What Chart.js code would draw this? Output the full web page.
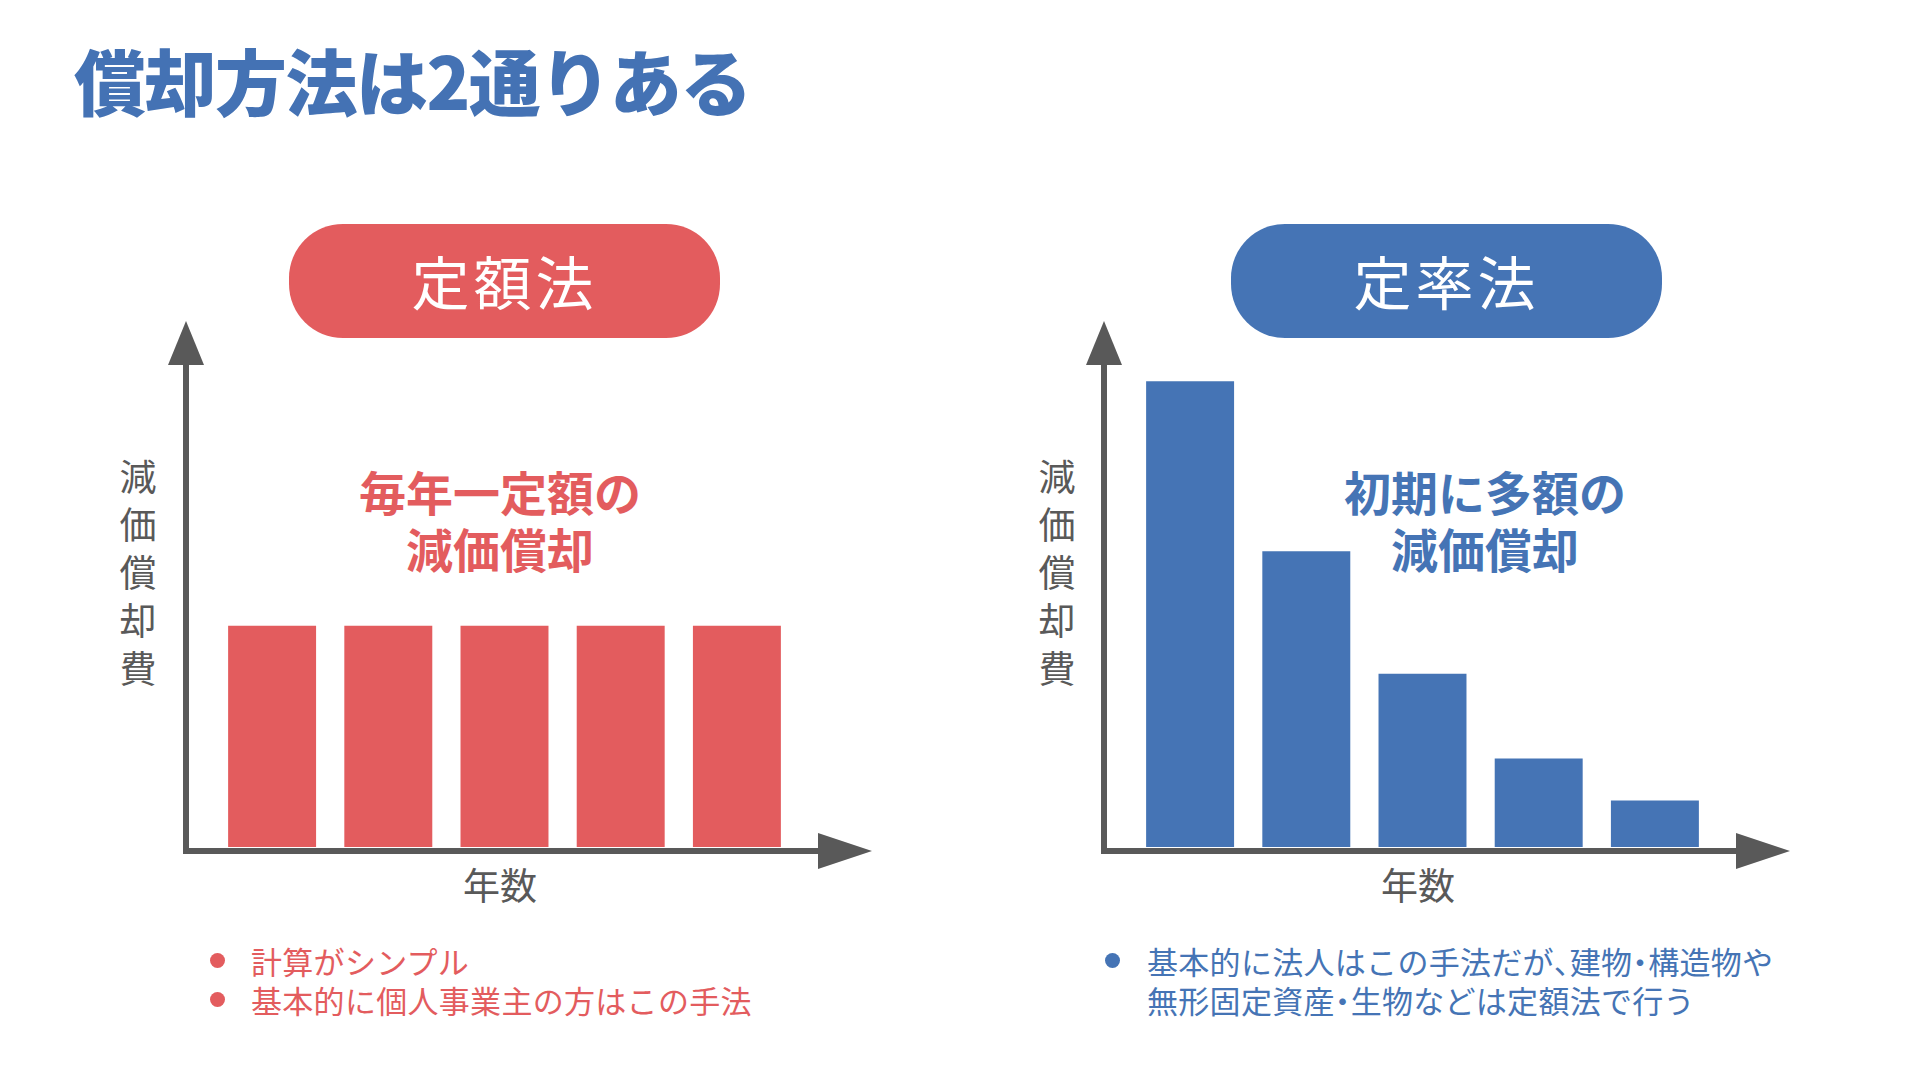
<!DOCTYPE html>
<html lang="ja">
<head>
<meta charset="utf-8">
<script src="https://cdn.jsdelivr.net/npm/chart.js@4.4.1/dist/chart.umd.min.js"></script>
<style>
  html, body { margin: 0; padding: 0; background: #fff; }
  body { width: 1920px; height: 1080px; position: relative; overflow: hidden; font-family: "Noto Sans CJK JP", sans-serif; }
  .abs { position: absolute; white-space: nowrap; }
  .title { left: 74px; top: 33px; font-size: 72px; line-height: 92px; font-weight: 900; color: #4472B4; letter-spacing: -1.5px; }
  .pill { top: 224px; width: 431px; height: 114px; border-radius: 54px; color: #fff; font-size: 58px;
          display: flex; align-items: center; justify-content: center; letter-spacing: 4px; padding-bottom: 3px; box-sizing: border-box; }
  .red { color: #E35C5E; }
  .blue { color: #4574B5; }
  .ylabel { top: 451px; width: 60px; font-size: 37px; line-height: 48px; color: #595959; text-align: center; }
  .xlabel { top: 860px; width: 200px; font-size: 37px; line-height: 48px; color: #595959; text-align: center; }
  .note { top: 462px; width: 400px; font-size: 47px; line-height: 57px; font-weight: 700; text-align: center; }
  .bullets { top: 941px; font-size: 31px; line-height: 39px; letter-spacing: 0.3px; }
  .narrow { font-feature-settings: "palt"; }
  .dot { position: absolute; width: 15px; height: 15px; border-radius: 50%; }
  .chart { position: absolute; top: 250px; width: 760px; height: 640px; }
</style>
</head>
<body>
<div class="abs title">償却方法は2通りある</div>

<div class="abs pill" style="left:289px; background:#E35C5E;">定額法</div>
<div class="abs pill" style="left:1231px; background:#4574B5;">定率法</div>

<div class="abs ylabel" style="left:108px;">減<br>価<br>償<br>却<br>費</div>
<div class="abs ylabel" style="left:1027px;">減<br>価<br>償<br>却<br>費</div>

<div class="abs xlabel" style="left:400px;">年数</div>
<div class="abs xlabel" style="left:1318px;">年数</div>

<div class="abs note red" style="left:300px;">毎年一定額の<br>減価償却</div>
<div class="abs note blue" style="left:1285px;">初期に多額の<br>減価償却</div>

<div class="chart" style="left:150px;"><canvas id="straightChart" width="760" height="640"></canvas></div>
<div class="chart" style="left:1068px;"><canvas id="decliningChart" width="760" height="640"></canvas></div>

<div class="abs bullets red" style="left:251px;">
  <span class="dot" style="left:-41px; top:12px; background:#E35C5E;"></span>
  <span class="dot" style="left:-41px; top:51px; background:#E35C5E;"></span>
  計算がシンプル<br>基本的に個人事業主の方はこの手法
</div>
<div class="abs bullets blue" style="left:1147px;">
  <span class="dot" style="left:-42px; top:12px; background:#4574B5;"></span>
  基本的に法人はこの手法だが<span class="narrow">、</span>建物<span class="narrow">・</span>構造物や<br>無形固定資産<span class="narrow">・</span>生物などは定額法で行う
</div>

<script>
const years = ['1年目', '2年目', '3年目', '4年目', '5年目'];
const straightLineValues = [47.5, 47.5, 47.5, 47.5, 47.5];
const decliningValues = [100, 63.5, 37.2, 19, 10];
const yMax = 120;

const RED = '#E35C5E';
const BLUE = '#4574B5';
const AXIS = '#595959';

// axis lines with arrow heads, drawn just outside the category area
const arrowAxes = {
    id: 'arrowAxes',
    beforeDatasetsDraw(chart) {
        const { ctx, chartArea: a, scales: { y } } = chart;
        const ox = a.left - 28;
        const oy = y.getPixelForValue(0) + 4;
        ctx.save();
        ctx.strokeStyle = AXIS;
        ctx.fillStyle = AXIS;
        ctx.lineWidth = 6;
        ctx.beginPath();
        ctx.moveTo(ox, oy + 3);
        ctx.lineTo(ox, a.top + 70);
        ctx.moveTo(ox - 3, oy);
        ctx.lineTo(a.right + 30, oy);
        ctx.stroke();

        ctx.beginPath();
        ctx.moveTo(ox, a.top + 33);
        ctx.lineTo(ox - 18, a.top + 77);
        ctx.lineTo(ox + 18, a.top + 77);
        ctx.closePath();
        ctx.fill();

        ctx.beginPath();
        ctx.moveTo(a.right + 77, oy);
        ctx.lineTo(a.right + 23, oy - 18);
        ctx.lineTo(a.right + 23, oy + 18);
        ctx.closePath();
        ctx.fill();
        ctx.restore();
    }
};

function makeChart(id, values, color) {
    return new Chart(document.getElementById(id), {
        type: 'bar',
        data: {
            labels: years,
            datasets: [{
                data: values,
                backgroundColor: color,
                borderWidth: 0,
                barPercentage: 0.757,
                categoryPercentage: 1
            }]
        },
        options: {
            responsive: false,
            animation: false,
            layout: { padding: { left: 64, right: 115, top: 38, bottom: 43 } },
            plugins: {
                legend: { display: false },
                tooltip: { enabled: false }
            },
            scales: {
                x: { display: false },
                y: { display: false, min: 0, max: yMax }
            }
        },
        plugins: [arrowAxes]
    });
}

makeChart('straightChart', straightLineValues, RED);
makeChart('decliningChart', decliningValues, BLUE);
</script>
</body>
</html>
